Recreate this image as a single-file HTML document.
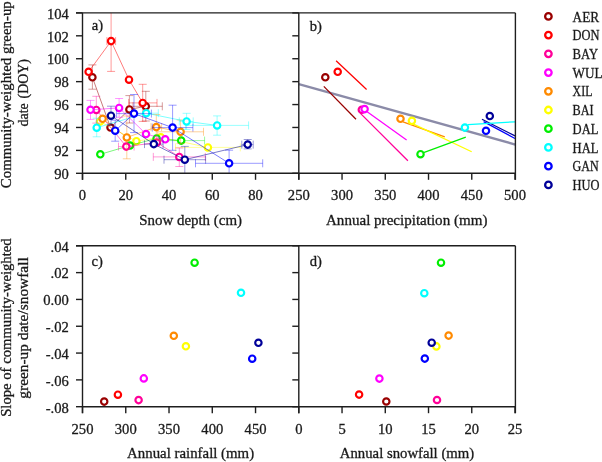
<!DOCTYPE html>
<html><head><meta charset="utf-8"><style>
html,body{margin:0;padding:0;background:#fff;}
svg{display:block;will-change:transform;}
text{font-family:"Liberation Serif",serif;fill:#1a1a1a;stroke:#1a1a1a;stroke-width:0.3px;}
</style></head><body>
<svg width="602" height="462" viewBox="0 0 602 462">
<rect width="602" height="462" fill="#fff"/>
<g>
<path d="M92.4,77.3V64.9M88.4,64.9H96.4M92.4,77.3V89.2M88.4,89.2H96.4M129.4,109.4V95.6M125.4,95.6H133.4M129.4,109.4V123.0M125.4,123.0H133.4M145.8,106.3V91.3M141.8,91.3H149.8M145.8,106.3V121.0M141.8,121.0H149.8M145.8,106.3H133.0M133.0,102.3V110.3M145.8,106.3H162.3M162.3,102.3V110.3" fill="none" stroke="#990000" stroke-width="0.95" opacity="0.42"/>
<polyline points="92.4,77.3 110.5,127.5 129.4,109.4 145.8,106.3" fill="none" stroke="#990000" stroke-width="0.95" opacity="0.55"/>
<circle cx="92.40" cy="77.30" r="3.2" fill="#fff" stroke="#990000" stroke-width="2.15"/>
<circle cx="110.50" cy="127.50" r="3.2" fill="#fff" stroke="#990000" stroke-width="2.15"/>
<circle cx="129.40" cy="109.40" r="3.2" fill="#fff" stroke="#990000" stroke-width="2.15"/>
<circle cx="145.80" cy="106.30" r="3.2" fill="#fff" stroke="#990000" stroke-width="2.15"/>
<path d="M207.9,147.4H175.5M175.5,143.4V151.4M207.9,147.4H240.3M240.3,143.4V151.4" fill="none" stroke="#ffff00" stroke-width="0.95" opacity="0.42"/>
<polyline points="100.0,121.6 136.4,141.2 160.8,137.3 207.9,147.4" fill="none" stroke="#ffff00" stroke-width="0.95" opacity="0.55"/>
<circle cx="100.00" cy="121.60" r="3.2" fill="#fff" stroke="#ffff00" stroke-width="2.15"/>
<circle cx="136.40" cy="141.20" r="3.2" fill="#fff" stroke="#ffff00" stroke-width="2.15"/>
<circle cx="160.80" cy="137.30" r="3.2" fill="#fff" stroke="#ffff00" stroke-width="2.15"/>
<circle cx="207.90" cy="147.40" r="3.2" fill="#fff" stroke="#ffff00" stroke-width="2.15"/>
<path d="M181.2,140.6H157.8M157.8,136.6V144.6M181.2,140.6H204.6M204.6,136.6V144.6" fill="none" stroke="#00ee00" stroke-width="0.95" opacity="0.42"/>
<polyline points="100.3,154.3 130.0,145.5 156.6,138.4 181.2,140.6" fill="none" stroke="#00ee00" stroke-width="0.95" opacity="0.55"/>
<circle cx="100.30" cy="154.30" r="3.2" fill="#fff" stroke="#00ee00" stroke-width="2.15"/>
<circle cx="130.00" cy="145.50" r="3.2" fill="#fff" stroke="#00ee00" stroke-width="2.15"/>
<circle cx="156.60" cy="138.40" r="3.2" fill="#fff" stroke="#00ee00" stroke-width="2.15"/>
<circle cx="181.20" cy="140.60" r="3.2" fill="#fff" stroke="#00ee00" stroke-width="2.15"/>
<path d="M96.3,109.9V96.3M92.3,96.3H100.3M96.3,109.9V123.1M92.3,123.1H100.3M126.3,146.6H118.5M118.5,142.6V150.6M126.3,146.6H134.1M134.1,142.6V150.6M179.3,156.9V148.0M175.3,148.0H183.3M179.3,156.9V166.5M175.3,166.5H183.3M179.3,156.9H153.3M153.3,152.9V160.9M179.3,156.9H205.3M205.3,152.9V160.9" fill="none" stroke="#ff0099" stroke-width="0.95" opacity="0.42"/>
<polyline points="96.3,109.9 126.3,146.6 156.9,142.5 179.3,156.9" fill="none" stroke="#ff0099" stroke-width="0.95" opacity="0.55"/>
<circle cx="96.30" cy="109.90" r="3.2" fill="#fff" stroke="#ff0099" stroke-width="2.15"/>
<circle cx="126.30" cy="146.60" r="3.2" fill="#fff" stroke="#ff0099" stroke-width="2.15"/>
<circle cx="156.90" cy="142.50" r="3.2" fill="#fff" stroke="#ff0099" stroke-width="2.15"/>
<circle cx="179.30" cy="156.90" r="3.2" fill="#fff" stroke="#ff0099" stroke-width="2.15"/>
<path d="M111.1,41.1V12.9M111.1,41.1V71.4M107.1,71.4H115.1M111.1,41.1H106.9M106.9,37.1V45.1M111.1,41.1H115.6M115.6,37.1V45.1M142.7,102.9V84.3M138.7,84.3H146.7M142.7,102.9V121.4M138.7,121.4H146.7M142.7,102.9H128.7M128.7,98.9V106.9M142.7,102.9H157.0M157.0,98.9V106.9" fill="none" stroke="#ff0000" stroke-width="0.95" opacity="0.42"/>
<polyline points="88.6,71.8 111.1,41.1 129.0,79.7 142.7,102.9" fill="none" stroke="#ff0000" stroke-width="0.95" opacity="0.55"/>
<circle cx="88.60" cy="71.80" r="3.2" fill="#fff" stroke="#ff0000" stroke-width="2.15"/>
<circle cx="111.10" cy="41.10" r="3.2" fill="#fff" stroke="#ff0000" stroke-width="2.15"/>
<circle cx="129.00" cy="79.70" r="3.2" fill="#fff" stroke="#ff0000" stroke-width="2.15"/>
<circle cx="142.70" cy="102.90" r="3.2" fill="#fff" stroke="#ff0000" stroke-width="2.15"/>
<path d="M126.8,137.4V116.0M122.8,116.0H130.8M126.8,137.4V158.8M122.8,158.8H130.8M156.3,127.1V114.5M152.3,114.5H160.3M156.3,127.1V139.7M152.3,139.7H160.3M156.3,127.1H151.0M151.0,123.1V131.1M156.3,127.1H161.6M161.6,123.1V131.1M180.6,131.8V120.0M176.6,120.0H184.6M180.6,131.8V143.6M176.6,143.6H184.6M180.6,131.8H157.7M157.7,127.8V135.8M180.6,131.8H203.5M203.5,127.8V135.8" fill="none" stroke="#ff8a00" stroke-width="0.95" opacity="0.42"/>
<polyline points="102.6,118.8 126.8,137.4 156.3,127.1 180.6,131.8" fill="none" stroke="#ff8a00" stroke-width="0.95" opacity="0.55"/>
<circle cx="102.60" cy="118.80" r="3.2" fill="#fff" stroke="#ff8a00" stroke-width="2.15"/>
<circle cx="126.80" cy="137.40" r="3.2" fill="#fff" stroke="#ff8a00" stroke-width="2.15"/>
<circle cx="156.30" cy="127.10" r="3.2" fill="#fff" stroke="#ff8a00" stroke-width="2.15"/>
<circle cx="180.60" cy="131.80" r="3.2" fill="#fff" stroke="#ff8a00" stroke-width="2.15"/>
<path d="M90.5,109.8V100.4M86.5,100.4H94.5M90.5,109.8V119.4M86.5,119.4H94.5M119.1,107.9V98.5M115.1,98.5H123.1M119.1,107.9V117.3M115.1,117.3H123.1" fill="none" stroke="#ff00ff" stroke-width="0.95" opacity="0.42"/>
<polyline points="90.5,109.8 119.1,107.9 146.0,134.0 165.2,139.3" fill="none" stroke="#ff00ff" stroke-width="0.95" opacity="0.55"/>
<circle cx="90.50" cy="109.80" r="3.2" fill="#fff" stroke="#ff00ff" stroke-width="2.15"/>
<circle cx="119.10" cy="107.90" r="3.2" fill="#fff" stroke="#ff00ff" stroke-width="2.15"/>
<circle cx="146.00" cy="134.00" r="3.2" fill="#fff" stroke="#ff00ff" stroke-width="2.15"/>
<circle cx="165.20" cy="139.30" r="3.2" fill="#fff" stroke="#ff00ff" stroke-width="2.15"/>
<path d="M96.7,127.7V118.2M92.7,118.2H100.7M96.7,127.7V136.8M92.7,136.8H100.7M146.2,113.2H134.1M134.1,109.2V117.2M146.2,113.2H158.3M158.3,109.2V117.2M186.6,121.4V113.3M182.6,113.3H190.6M186.6,121.4V129.5M182.6,129.5H190.6M186.6,121.4H179.3M179.3,117.4V125.4M186.6,121.4H193.2M193.2,117.4V125.4M217.1,125.4V115.9M213.1,115.9H221.1M217.1,125.4V135.2M213.1,135.2H221.1M217.1,125.4H185.6M185.6,121.4V129.4M217.1,125.4H248.6M248.6,121.4V129.4" fill="none" stroke="#00ffff" stroke-width="0.95" opacity="0.42"/>
<polyline points="96.7,127.7 146.2,113.2 186.6,121.4 217.1,125.4" fill="none" stroke="#00ffff" stroke-width="0.95" opacity="0.55"/>
<circle cx="96.70" cy="127.70" r="3.2" fill="#fff" stroke="#00ffff" stroke-width="2.15"/>
<circle cx="146.20" cy="113.20" r="3.2" fill="#fff" stroke="#00ffff" stroke-width="2.15"/>
<circle cx="186.60" cy="121.40" r="3.2" fill="#fff" stroke="#00ffff" stroke-width="2.15"/>
<circle cx="217.10" cy="125.40" r="3.2" fill="#fff" stroke="#00ffff" stroke-width="2.15"/>
<path d="M115.2,130.7V120.2M111.2,120.2H119.2M115.2,130.7V141.2M111.2,141.2H119.2M134.0,113.6V94.5M130.0,94.5H138.0M134.0,113.6V132.6M130.0,132.6H138.0M134.0,113.6H116.6M116.6,109.6V117.6M134.0,113.6H151.4M151.4,109.6V117.6M172.6,127.6V105.2M168.6,105.2H176.6M172.6,127.6V150.3M168.6,150.3H176.6M172.6,127.6H152.3M152.3,123.6V131.6M172.6,127.6H192.9M192.9,123.6V131.6M229.1,163.3V150.2M225.1,150.2H233.1M229.1,163.3V173.3M229.1,163.3H195.5M195.5,159.3V167.3M229.1,163.3H262.7M262.7,159.3V167.3" fill="none" stroke="#0000ff" stroke-width="0.95" opacity="0.42"/>
<polyline points="115.2,130.7 134.0,113.6 172.6,127.6 229.1,163.3" fill="none" stroke="#0000ff" stroke-width="0.95" opacity="0.55"/>
<circle cx="115.20" cy="130.70" r="3.2" fill="#fff" stroke="#0000ff" stroke-width="2.15"/>
<circle cx="134.00" cy="113.60" r="3.2" fill="#fff" stroke="#0000ff" stroke-width="2.15"/>
<circle cx="172.60" cy="127.60" r="3.2" fill="#fff" stroke="#0000ff" stroke-width="2.15"/>
<circle cx="229.10" cy="163.30" r="3.2" fill="#fff" stroke="#0000ff" stroke-width="2.15"/>
<path d="M111.0,115.7V106.2M107.0,106.2H115.0M111.0,115.7V125.2M107.0,125.2H115.0M153.8,144.1H144.5M144.5,140.1V148.1M153.8,144.1H163.1M163.1,140.1V148.1M184.8,159.7V146.4M180.8,146.4H188.8M184.8,159.7V173.3M184.8,159.7H164.0M164.0,155.7V163.7M184.8,159.7H205.6M205.6,155.7V163.7M247.7,144.6V139.5M243.7,139.5H251.7M247.7,144.6V148.9M243.7,148.9H251.7M247.7,144.6H241.8M241.8,140.6V148.6M247.7,144.6H253.2M253.2,140.6V148.6" fill="none" stroke="#000099" stroke-width="0.95" opacity="0.42"/>
<polyline points="111.0,115.7 153.8,144.1 184.8,159.7 247.7,144.6" fill="none" stroke="#000099" stroke-width="0.95" opacity="0.55"/>
<circle cx="111.00" cy="115.70" r="3.2" fill="#fff" stroke="#000099" stroke-width="2.15"/>
<circle cx="153.80" cy="144.10" r="3.2" fill="#fff" stroke="#000099" stroke-width="2.15"/>
<circle cx="184.80" cy="159.70" r="3.2" fill="#fff" stroke="#000099" stroke-width="2.15"/>
<circle cx="247.70" cy="144.60" r="3.2" fill="#fff" stroke="#000099" stroke-width="2.15"/>
</g>
<line x1="298.80" y1="84.20" x2="515.40" y2="144.60" stroke="#8b8ba8" stroke-width="2.4" />
<line x1="323.80" y1="86.40" x2="356.00" y2="119.20" stroke="#990000" stroke-width="1.25" />
<line x1="336.10" y1="60.80" x2="366.60" y2="89.50" stroke="#ff0000" stroke-width="1.25" />
<line x1="360.20" y1="113.10" x2="407.90" y2="160.80" stroke="#ff0099" stroke-width="1.25" />
<line x1="366.80" y1="111.60" x2="406.60" y2="140.00" stroke="#ff00ff" stroke-width="1.25" />
<line x1="403.00" y1="121.90" x2="444.80" y2="136.80" stroke="#ff8a00" stroke-width="1.25" />
<line x1="413.00" y1="123.90" x2="471.70" y2="151.80" stroke="#ffff00" stroke-width="1.25" />
<line x1="422.90" y1="152.80" x2="465.80" y2="137.20" stroke="#00ee00" stroke-width="1.25" />
<line x1="482.00" y1="119.20" x2="515.00" y2="135.90" stroke="#000099" stroke-width="1.25" />
<line x1="483.60" y1="121.60" x2="515.00" y2="138.50" stroke="#0000ff" stroke-width="1.25" />
<line x1="468.00" y1="124.60" x2="515.00" y2="121.80" stroke="#00ffff" stroke-width="1.25" />
<circle cx="325.30" cy="77.30" r="3.2" fill="#fff" stroke="#990000" stroke-width="2.15"/>
<circle cx="337.70" cy="71.80" r="3.2" fill="#fff" stroke="#ff0000" stroke-width="2.15"/>
<circle cx="361.80" cy="109.80" r="3.2" fill="#fff" stroke="#ff0099" stroke-width="2.15"/>
<circle cx="364.60" cy="109.10" r="3.2" fill="#fff" stroke="#ff00ff" stroke-width="2.15"/>
<circle cx="400.50" cy="118.80" r="3.2" fill="#fff" stroke="#ff8a00" stroke-width="2.15"/>
<circle cx="411.90" cy="120.80" r="3.2" fill="#fff" stroke="#ffff00" stroke-width="2.15"/>
<circle cx="420.50" cy="154.20" r="3.2" fill="#fff" stroke="#00ee00" stroke-width="2.15"/>
<circle cx="464.90" cy="127.60" r="3.2" fill="#fff" stroke="#00ffff" stroke-width="2.15"/>
<circle cx="489.80" cy="116.00" r="3.2" fill="#fff" stroke="#000099" stroke-width="2.15"/>
<circle cx="486.00" cy="130.80" r="3.2" fill="#fff" stroke="#0000ff" stroke-width="2.15"/>
<circle cx="185.90" cy="346.30" r="3.2" fill="#fff" stroke="#ffff00" stroke-width="2.15"/>
<circle cx="194.60" cy="262.70" r="3.2" fill="#fff" stroke="#00ee00" stroke-width="2.15"/>
<circle cx="241.00" cy="292.80" r="3.2" fill="#fff" stroke="#00ffff" stroke-width="2.15"/>
<circle cx="173.80" cy="335.80" r="3.2" fill="#fff" stroke="#ff8a00" stroke-width="2.15"/>
<circle cx="143.80" cy="378.40" r="3.2" fill="#fff" stroke="#ff00ff" stroke-width="2.15"/>
<circle cx="138.60" cy="400.10" r="3.2" fill="#fff" stroke="#ff0099" stroke-width="2.15"/>
<circle cx="117.90" cy="394.70" r="3.2" fill="#fff" stroke="#ff0000" stroke-width="2.15"/>
<circle cx="104.20" cy="401.60" r="3.2" fill="#fff" stroke="#990000" stroke-width="2.15"/>
<circle cx="252.20" cy="358.70" r="3.2" fill="#fff" stroke="#0000ff" stroke-width="2.15"/>
<circle cx="258.40" cy="342.80" r="3.2" fill="#fff" stroke="#000099" stroke-width="2.15"/>
<circle cx="436.40" cy="346.40" r="3.2" fill="#fff" stroke="#ffff00" stroke-width="2.15"/>
<circle cx="441.00" cy="262.70" r="3.2" fill="#fff" stroke="#00ee00" stroke-width="2.15"/>
<circle cx="424.30" cy="293.20" r="3.2" fill="#fff" stroke="#00ffff" stroke-width="2.15"/>
<circle cx="448.60" cy="335.60" r="3.2" fill="#fff" stroke="#ff8a00" stroke-width="2.15"/>
<circle cx="379.40" cy="378.60" r="3.2" fill="#fff" stroke="#ff00ff" stroke-width="2.15"/>
<circle cx="437.00" cy="400.00" r="3.2" fill="#fff" stroke="#ff0099" stroke-width="2.15"/>
<circle cx="359.10" cy="394.60" r="3.2" fill="#fff" stroke="#ff0000" stroke-width="2.15"/>
<circle cx="386.30" cy="401.50" r="3.2" fill="#fff" stroke="#990000" stroke-width="2.15"/>
<circle cx="424.80" cy="358.60" r="3.2" fill="#fff" stroke="#0000ff" stroke-width="2.15"/>
<circle cx="431.70" cy="342.70" r="3.2" fill="#fff" stroke="#000099" stroke-width="2.15"/>
<line x1="76.00" y1="12.90" x2="515.40" y2="12.90" stroke="#1e1e1e" stroke-width="1.4" />
<line x1="82.50" y1="12.90" x2="82.50" y2="179.80" stroke="#1e1e1e" stroke-width="1.4" />
<line x1="298.80" y1="12.90" x2="298.80" y2="179.80" stroke="#1e1e1e" stroke-width="1.4" />
<line x1="515.40" y1="12.90" x2="515.40" y2="179.80" stroke="#1e1e1e" stroke-width="1.4" />
<line x1="82.50" y1="173.30" x2="515.40" y2="173.30" stroke="#1e1e1e" stroke-width="1.4" />
<line x1="76.00" y1="245.80" x2="515.40" y2="245.80" stroke="#1e1e1e" stroke-width="1.4" />
<line x1="82.50" y1="245.80" x2="82.50" y2="413.20" stroke="#1e1e1e" stroke-width="1.4" />
<line x1="298.80" y1="245.80" x2="298.80" y2="413.20" stroke="#1e1e1e" stroke-width="1.4" />
<line x1="515.40" y1="245.80" x2="515.40" y2="413.20" stroke="#1e1e1e" stroke-width="1.4" />
<line x1="82.50" y1="406.70" x2="515.40" y2="406.70" stroke="#1e1e1e" stroke-width="1.4" />
<line x1="76.00" y1="173.30" x2="82.50" y2="173.30" stroke="#1e1e1e" stroke-width="1.4" />
<line x1="292.30" y1="173.30" x2="298.80" y2="173.30" stroke="#1e1e1e" stroke-width="1.4" />
<text x="68.80" y="179.00" text-anchor="end" font-size="14.6" >90</text>
<line x1="76.00" y1="150.39" x2="82.50" y2="150.39" stroke="#1e1e1e" stroke-width="1.4" />
<line x1="292.30" y1="150.39" x2="298.80" y2="150.39" stroke="#1e1e1e" stroke-width="1.4" />
<text x="68.80" y="156.09" text-anchor="end" font-size="14.6" >92</text>
<line x1="76.00" y1="127.47" x2="82.50" y2="127.47" stroke="#1e1e1e" stroke-width="1.4" />
<line x1="292.30" y1="127.47" x2="298.80" y2="127.47" stroke="#1e1e1e" stroke-width="1.4" />
<text x="68.80" y="133.17" text-anchor="end" font-size="14.6" >94</text>
<line x1="76.00" y1="104.56" x2="82.50" y2="104.56" stroke="#1e1e1e" stroke-width="1.4" />
<line x1="292.30" y1="104.56" x2="298.80" y2="104.56" stroke="#1e1e1e" stroke-width="1.4" />
<text x="68.80" y="110.26" text-anchor="end" font-size="14.6" >96</text>
<line x1="76.00" y1="81.64" x2="82.50" y2="81.64" stroke="#1e1e1e" stroke-width="1.4" />
<line x1="292.30" y1="81.64" x2="298.80" y2="81.64" stroke="#1e1e1e" stroke-width="1.4" />
<text x="68.80" y="87.34" text-anchor="end" font-size="14.6" >98</text>
<line x1="76.00" y1="58.73" x2="82.50" y2="58.73" stroke="#1e1e1e" stroke-width="1.4" />
<line x1="292.30" y1="58.73" x2="298.80" y2="58.73" stroke="#1e1e1e" stroke-width="1.4" />
<text x="68.80" y="64.43" text-anchor="end" font-size="14.6" >100</text>
<line x1="76.00" y1="35.81" x2="82.50" y2="35.81" stroke="#1e1e1e" stroke-width="1.4" />
<line x1="292.30" y1="35.81" x2="298.80" y2="35.81" stroke="#1e1e1e" stroke-width="1.4" />
<text x="68.80" y="41.51" text-anchor="end" font-size="14.6" >102</text>
<line x1="76.00" y1="12.90" x2="82.50" y2="12.90" stroke="#1e1e1e" stroke-width="1.4" />
<line x1="292.30" y1="12.90" x2="298.80" y2="12.90" stroke="#1e1e1e" stroke-width="1.4" />
<text x="68.80" y="18.60" text-anchor="end" font-size="14.6" >104</text>
<line x1="82.50" y1="173.30" x2="82.50" y2="179.80" stroke="#1e1e1e" stroke-width="1.4" />
<text x="82.50" y="199.90" text-anchor="middle" font-size="14.6" >0</text>
<line x1="125.76" y1="173.30" x2="125.76" y2="179.80" stroke="#1e1e1e" stroke-width="1.4" />
<text x="125.76" y="199.90" text-anchor="middle" font-size="14.6" >20</text>
<line x1="169.02" y1="173.30" x2="169.02" y2="179.80" stroke="#1e1e1e" stroke-width="1.4" />
<text x="169.02" y="199.90" text-anchor="middle" font-size="14.6" >40</text>
<line x1="212.28" y1="173.30" x2="212.28" y2="179.80" stroke="#1e1e1e" stroke-width="1.4" />
<text x="212.28" y="199.90" text-anchor="middle" font-size="14.6" >60</text>
<line x1="255.54" y1="173.30" x2="255.54" y2="179.80" stroke="#1e1e1e" stroke-width="1.4" />
<text x="255.54" y="199.90" text-anchor="middle" font-size="14.6" >80</text>
<line x1="298.80" y1="173.30" x2="298.80" y2="179.80" stroke="#1e1e1e" stroke-width="1.4" />
<text x="298.80" y="199.90" text-anchor="middle" font-size="14.6" >250</text>
<line x1="342.04" y1="173.30" x2="342.04" y2="179.80" stroke="#1e1e1e" stroke-width="1.4" />
<text x="342.04" y="199.90" text-anchor="middle" font-size="14.6" >300</text>
<line x1="385.28" y1="173.30" x2="385.28" y2="179.80" stroke="#1e1e1e" stroke-width="1.4" />
<text x="385.28" y="199.90" text-anchor="middle" font-size="14.6" >350</text>
<line x1="428.52" y1="173.30" x2="428.52" y2="179.80" stroke="#1e1e1e" stroke-width="1.4" />
<text x="428.52" y="199.90" text-anchor="middle" font-size="14.6" >400</text>
<line x1="471.76" y1="173.30" x2="471.76" y2="179.80" stroke="#1e1e1e" stroke-width="1.4" />
<text x="471.76" y="199.90" text-anchor="middle" font-size="14.6" >450</text>
<line x1="515.00" y1="173.30" x2="515.00" y2="179.80" stroke="#1e1e1e" stroke-width="1.4" />
<text x="515.00" y="199.90" text-anchor="middle" font-size="14.6" >500</text>
<line x1="76.00" y1="245.80" x2="82.50" y2="245.80" stroke="#1e1e1e" stroke-width="1.4" />
<line x1="292.30" y1="245.80" x2="298.80" y2="245.80" stroke="#1e1e1e" stroke-width="1.4" />
<text x="68.80" y="251.60" text-anchor="end" font-size="14.6" >.04</text>
<line x1="76.00" y1="272.62" x2="82.50" y2="272.62" stroke="#1e1e1e" stroke-width="1.4" />
<line x1="292.30" y1="272.62" x2="298.80" y2="272.62" stroke="#1e1e1e" stroke-width="1.4" />
<text x="68.80" y="278.42" text-anchor="end" font-size="14.6" >.02</text>
<line x1="76.00" y1="299.43" x2="82.50" y2="299.43" stroke="#1e1e1e" stroke-width="1.4" />
<line x1="292.30" y1="299.43" x2="298.80" y2="299.43" stroke="#1e1e1e" stroke-width="1.4" />
<text x="68.80" y="305.23" text-anchor="end" font-size="14.6" >0.00</text>
<line x1="76.00" y1="326.25" x2="82.50" y2="326.25" stroke="#1e1e1e" stroke-width="1.4" />
<line x1="292.30" y1="326.25" x2="298.80" y2="326.25" stroke="#1e1e1e" stroke-width="1.4" />
<text x="68.80" y="332.05" text-anchor="end" font-size="14.6" >-.02</text>
<line x1="76.00" y1="353.07" x2="82.50" y2="353.07" stroke="#1e1e1e" stroke-width="1.4" />
<line x1="292.30" y1="353.07" x2="298.80" y2="353.07" stroke="#1e1e1e" stroke-width="1.4" />
<text x="68.80" y="358.87" text-anchor="end" font-size="14.6" >-.04</text>
<line x1="76.00" y1="379.88" x2="82.50" y2="379.88" stroke="#1e1e1e" stroke-width="1.4" />
<line x1="292.30" y1="379.88" x2="298.80" y2="379.88" stroke="#1e1e1e" stroke-width="1.4" />
<text x="68.80" y="385.68" text-anchor="end" font-size="14.6" >-.06</text>
<line x1="76.00" y1="406.70" x2="82.50" y2="406.70" stroke="#1e1e1e" stroke-width="1.4" />
<line x1="292.30" y1="406.70" x2="298.80" y2="406.70" stroke="#1e1e1e" stroke-width="1.4" />
<text x="68.80" y="412.50" text-anchor="end" font-size="14.6" >-.08</text>
<line x1="82.50" y1="406.70" x2="82.50" y2="413.20" stroke="#1e1e1e" stroke-width="1.4" />
<text x="82.50" y="433.90" text-anchor="middle" font-size="14.6" >250</text>
<line x1="125.76" y1="406.70" x2="125.76" y2="413.20" stroke="#1e1e1e" stroke-width="1.4" />
<text x="125.76" y="433.90" text-anchor="middle" font-size="14.6" >300</text>
<line x1="169.02" y1="406.70" x2="169.02" y2="413.20" stroke="#1e1e1e" stroke-width="1.4" />
<text x="169.02" y="433.90" text-anchor="middle" font-size="14.6" >350</text>
<line x1="212.28" y1="406.70" x2="212.28" y2="413.20" stroke="#1e1e1e" stroke-width="1.4" />
<text x="212.28" y="433.90" text-anchor="middle" font-size="14.6" >400</text>
<line x1="255.54" y1="406.70" x2="255.54" y2="413.20" stroke="#1e1e1e" stroke-width="1.4" />
<text x="255.54" y="433.90" text-anchor="middle" font-size="14.6" >450</text>
<line x1="298.80" y1="406.70" x2="298.80" y2="413.20" stroke="#1e1e1e" stroke-width="1.4" />
<text x="298.80" y="433.90" text-anchor="middle" font-size="14.6" >0</text>
<line x1="342.04" y1="406.70" x2="342.04" y2="413.20" stroke="#1e1e1e" stroke-width="1.4" />
<text x="342.04" y="433.90" text-anchor="middle" font-size="14.6" >5</text>
<line x1="385.28" y1="406.70" x2="385.28" y2="413.20" stroke="#1e1e1e" stroke-width="1.4" />
<text x="385.28" y="433.90" text-anchor="middle" font-size="14.6" >10</text>
<line x1="428.52" y1="406.70" x2="428.52" y2="413.20" stroke="#1e1e1e" stroke-width="1.4" />
<text x="428.52" y="433.90" text-anchor="middle" font-size="14.6" >15</text>
<line x1="471.76" y1="406.70" x2="471.76" y2="413.20" stroke="#1e1e1e" stroke-width="1.4" />
<text x="471.76" y="433.90" text-anchor="middle" font-size="14.6" >20</text>
<line x1="515.00" y1="406.70" x2="515.00" y2="413.20" stroke="#1e1e1e" stroke-width="1.4" />
<text x="515.00" y="433.90" text-anchor="middle" font-size="14.6" >25</text>
<text x="190.60" y="224.90" text-anchor="middle" font-size="14.6" textLength="102.8" lengthAdjust="spacingAndGlyphs" >Snow depth (cm)</text>
<text x="406.70" y="224.90" text-anchor="middle" font-size="14.6" textLength="161.4" lengthAdjust="spacingAndGlyphs" >Annual precipitation (mm)</text>
<text x="190.60" y="458.30" text-anchor="middle" font-size="14.6" textLength="127.0" lengthAdjust="spacingAndGlyphs" >Annual rainfall (mm)</text>
<text x="407.00" y="458.30" text-anchor="middle" font-size="14.6" textLength="134.4" lengthAdjust="spacingAndGlyphs" >Annual snowfall (mm)</text>
<text transform="translate(11.3,94.7) rotate(-90)" x="0" y="0" text-anchor="middle" font-size="14.6" textLength="187" lengthAdjust="spacingAndGlyphs">Community-weighted green-up</text>
<text transform="translate(28.0,114.9) rotate(-90)" x="0" y="0" text-anchor="middle" font-size="14.6" textLength="23.3" lengthAdjust="spacingAndGlyphs">date</text>
<text transform="translate(28.0,78.75) rotate(-90)" x="0" y="0" text-anchor="middle" font-size="14.6" textLength="39.3" lengthAdjust="spacingAndGlyphs">(DOY)</text>
<text transform="translate(11.3,327.6) rotate(-90)" x="0" y="0" text-anchor="middle" font-size="14.6" textLength="178.4" lengthAdjust="spacingAndGlyphs">Slope of community-weighted</text>
<text transform="translate(27.6,328.0) rotate(-90)" x="0" y="0" text-anchor="middle" font-size="14.6" textLength="141.4" lengthAdjust="spacingAndGlyphs">green-up date/snowfall</text>
<text x="91.70" y="29.90" text-anchor="start" font-size="14.6" >a)</text>
<text x="309.80" y="30.70" text-anchor="start" font-size="14.6" >b)</text>
<text x="91.50" y="265.50" text-anchor="start" font-size="14.6" >c)</text>
<text x="309.80" y="265.50" text-anchor="start" font-size="14.6" >d)</text>
<circle cx="548.40" cy="16.40" r="3.25" fill="#fff" stroke="#990000" stroke-width="2.3"/>
<text x="572.60" y="21.60" text-anchor="start" font-size="14.6" textLength="26.6" lengthAdjust="spacingAndGlyphs" >AER</text>
<circle cx="548.40" cy="35.12" r="3.25" fill="#fff" stroke="#ff0000" stroke-width="2.3"/>
<text x="572.60" y="40.32" text-anchor="start" font-size="14.6" textLength="27.0" lengthAdjust="spacingAndGlyphs" >DON</text>
<circle cx="548.40" cy="53.84" r="3.25" fill="#fff" stroke="#ff0099" stroke-width="2.3"/>
<text x="572.60" y="59.04" text-anchor="start" font-size="14.6" textLength="25.6" lengthAdjust="spacingAndGlyphs" >BAY</text>
<circle cx="548.40" cy="72.56" r="3.25" fill="#fff" stroke="#ff00ff" stroke-width="2.3"/>
<text x="572.60" y="77.76" text-anchor="start" font-size="14.6" textLength="30.0" lengthAdjust="spacingAndGlyphs" >WUL</text>
<circle cx="548.40" cy="91.28" r="3.25" fill="#fff" stroke="#ff8a00" stroke-width="2.3"/>
<text x="572.60" y="96.48" text-anchor="start" font-size="14.6" textLength="19.8" lengthAdjust="spacingAndGlyphs" >XIL</text>
<circle cx="548.40" cy="110.00" r="3.25" fill="#fff" stroke="#ffff00" stroke-width="2.3"/>
<text x="572.60" y="115.20" text-anchor="start" font-size="14.6" textLength="21.1" lengthAdjust="spacingAndGlyphs" >BAI</text>
<circle cx="548.40" cy="128.72" r="3.25" fill="#fff" stroke="#00ee00" stroke-width="2.3"/>
<text x="572.60" y="133.92" text-anchor="start" font-size="14.6" textLength="25.8" lengthAdjust="spacingAndGlyphs" >DAL</text>
<circle cx="548.40" cy="147.44" r="3.25" fill="#fff" stroke="#00ffff" stroke-width="2.3"/>
<text x="572.60" y="152.64" text-anchor="start" font-size="14.6" textLength="25.8" lengthAdjust="spacingAndGlyphs" >HAL</text>
<circle cx="548.40" cy="166.16" r="3.25" fill="#fff" stroke="#0000ff" stroke-width="2.3"/>
<text x="572.60" y="171.36" text-anchor="start" font-size="14.6" textLength="26.2" lengthAdjust="spacingAndGlyphs" >GAN</text>
<circle cx="548.40" cy="184.88" r="3.25" fill="#fff" stroke="#000099" stroke-width="2.3"/>
<text x="572.60" y="190.08" text-anchor="start" font-size="14.6" textLength="27.0" lengthAdjust="spacingAndGlyphs" >HUO</text>
</svg>
</body></html>
